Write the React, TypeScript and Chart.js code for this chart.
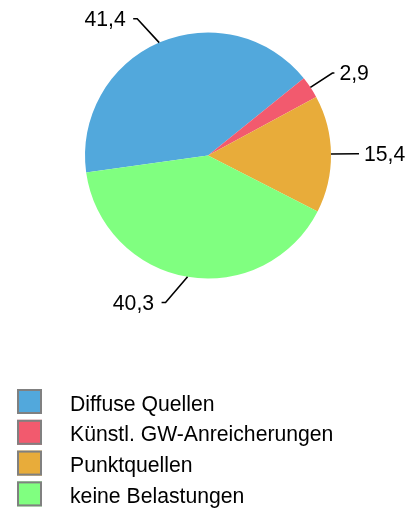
import React, { useEffect, useRef } from "react";
import { Chart, registerables } from "chart.js";

Chart.register(...registerables);

const categories = ["Diffuse Quellen", "Künstl. GW-Anreicherungen", "Punktquellen", "keine Belastungen"];
const values = [41.4, 2.9, 15.4, 40.3];
const valueLabels = ["41,4", "2,9", "15,4", "40,3"];
const colors = ["#52A8DC", "#F25A6E", "#E8AC3A", "#80FF80"];

const FONT = "'Liberation Sans', Arial, sans-serif";

const labelPlugin = {
  id: "leaderLabels",
  afterDatasetsDraw(chart: any) {
    const ctx = chart.ctx;
    const meta = chart.getDatasetMeta(0);
    ctx.save();
    ctx.strokeStyle = "#000";
    ctx.lineWidth = 1.6;
    ctx.fillStyle = "#000";
    ctx.font = `21.2px ${FONT}`;
    ctx.textBaseline = "alphabetic";
    meta.data.forEach((arc: any, i: number) => {
      const { x, y, startAngle, endAngle, outerRadius } = arc.getProps(
        ["x", "y", "startAngle", "endAngle", "outerRadius"],
        true
      );
      const mid = (startAngle + endAngle) / 2;
      const c = Math.cos(mid);
      const s = Math.sin(mid);
      const x0 = x + c * outerRadius;
      const y0 = y + s * outerRadius;
      const dir = c >= 0 ? 1 : -1;
      let x1 = x + c * (outerRadius + 26);
      if (Math.abs(x1 - x0) < 22) x1 = x0 + dir * 22;
      const y1 = y + s * (outerRadius + 26);
      const tick = dir > 0 ? 2 : 4;
      const gap = dir > 0 ? 5 : 7.5;
      const x2 = x1 + dir * tick;
      ctx.beginPath();
      ctx.moveTo(x0, y0);
      ctx.lineTo(x1, y1);
      ctx.lineTo(x2, y1);
      ctx.stroke();
      ctx.textAlign = dir > 0 ? "left" : "right";
      ctx.fillText(valueLabels[i], x2 + dir * gap, y1 + 7.5);
    });
    ctx.restore();
  },
};

const legendPlugin = {
  id: "customLegend",
  afterDraw(chart: any) {
    const ctx = chart.ctx;
    ctx.save();
    ctx.font = `21.2px ${FONT}`;
    ctx.textAlign = "left";
    ctx.textBaseline = "alphabetic";
    categories.forEach((cat, i) => {
      const top = 389 + i * 30.8;
      ctx.fillStyle = colors[i];
      ctx.fillRect(17, top, 25, 25);
      ctx.strokeStyle = "#808080";
      ctx.lineWidth = 2;
      ctx.strokeRect(18, top + 1, 23, 23);
      ctx.fillStyle = "#000";
      ctx.fillText(cat, 70, top + 21.5);
    });
    ctx.restore();
  },
};

export default function App() {
  const ref = useRef<HTMLCanvasElement | null>(null);
  useEffect(() => {
    document.body.style.margin = "0";
    const canvas = ref.current;
    if (!canvas) return;
    const chart = new Chart(canvas, {
      type: "pie",
      data: {
        labels: categories,
        datasets: [
          {
            data: values,
            backgroundColor: colors,
            borderWidth: 0,
          },
        ],
      },
      options: {
        responsive: false,
        animation: false,
        rotation: 262.1,
        layout: { padding: { left: 85, right: 80, top: 32.5, bottom: 231.5 } },
        plugins: {
          legend: { display: false },
          tooltip: { enabled: false },
        },
      },
      plugins: [labelPlugin, legendPlugin],
    });
    return () => chart.destroy();
  }, []);
  return (
    <div style={{ width: 411, height: 510 }}>
      <canvas ref={ref} width={411} height={510} style={{ display: "block" }} />
    </div>
  );
}
